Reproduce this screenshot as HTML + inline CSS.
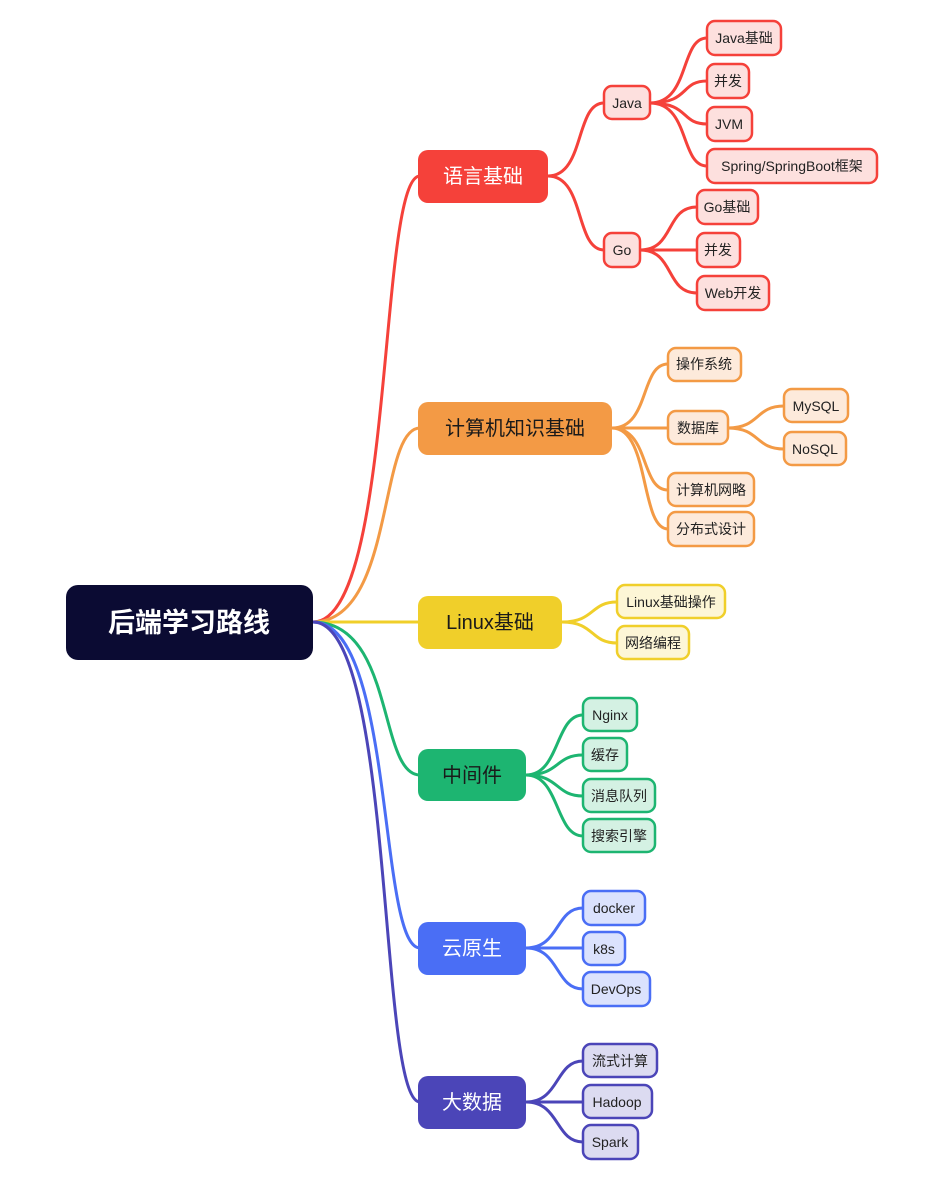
<!DOCTYPE html>
<html><head><meta charset="utf-8"><style>
html,body{margin:0;padding:0;background:#fff}
svg{display:block}
text{font-family:"Liberation Sans","Noto Sans CJK SC",sans-serif;dominant-baseline:central;text-anchor:middle}
</style></head><body>
<svg width="944" height="1189" viewBox="0 0 944 1189" xmlns="http://www.w3.org/2000/svg">
<g fill="none" stroke-width="3" stroke-linecap="round">
<!-- root to mains -->
<path d="M313 622 C395 622 378 176 420 176" stroke="#f5413a"/>
<path d="M313 622 C395 622 378 428 420 428" stroke="#f39a45"/>
<path d="M313 622 C380 622 390 622 420 622" stroke="#f0cf2a"/>
<path d="M313 622 C395 622 378 775 420 775" stroke="#1db571"/>
<path d="M313 622 C395 622 378 948 420 948" stroke="#4a6ef5"/>
<path d="M313 622 C395 622 378 1102 420 1102" stroke="#4b45b8"/>
<!-- red -->
<g stroke="#f5413a">
<path d="M548 176 C585 176 575 103 604 103"/>
<path d="M548 176 C585 176 575 250 604 250"/>
<path d="M650 103 C690 103 680 38 707 38"/>
<path d="M650 103 C690 103 680 81 707 81"/>
<path d="M650 103 C690 103 680 124 707 124"/>
<path d="M650 103 C690 103 680 166 707 166"/>
<path d="M640 250 C675 250 665 207 697 207"/>
<path d="M640 250 L697 250"/>
<path d="M640 250 C675 250 665 293 697 293"/>
</g>
<g stroke="#f39a45">
<path d="M612 428 C650 428 640 364 668 364"/>
<path d="M612 428 L668 428"/>
<path d="M612 428 C650 428 640 490 668 490"/>
<path d="M612 428 C650 428 640 529 668 529"/>
<path d="M728 428 C760 428 755 406 784 406"/>
<path d="M728 428 C760 428 755 449 784 449"/>
</g>
<g stroke="#f0cf2a">
<path d="M562 622 C595 622 590 602 617 602"/>
<path d="M562 622 C595 622 590 643 617 643"/>
</g>
<g stroke="#1db571">
<path d="M526 775 C560 775 555 715 583 715"/>
<path d="M526 775 C560 775 555 755 583 755"/>
<path d="M526 775 C560 775 555 796 583 796"/>
<path d="M526 775 C560 775 555 836 583 836"/>
</g>
<g stroke="#4a6ef5">
<path d="M526 948 C560 948 555 908 583 908"/>
<path d="M526 948 L583 948"/>
<path d="M526 948 C560 948 555 989 583 989"/>
</g>
<g stroke="#4b45b8">
<path d="M526 1102 C560 1102 555 1061 583 1061"/>
<path d="M526 1102 L583 1102"/>
<path d="M526 1102 C560 1102 555 1142 583 1142"/>
</g>
</g>
<!-- root -->
<rect x="66" y="585" width="247" height="75" rx="12" fill="#0b0b33"/>
<text x="189" y="623" font-size="27" font-weight="bold" fill="#fff">后端学习路线</text>
<!-- mains -->
<rect x="418" y="150" width="130" height="53" rx="10" fill="#f5413a"/>
<text x="483" y="177" font-size="20" fill="#fff">语言基础</text>
<rect x="418" y="402" width="194" height="53" rx="10" fill="#f39a45"/>
<text x="515" y="429" font-size="20" fill="#1a1a1a">计算机知识基础</text>
<rect x="418" y="596" width="144" height="53" rx="10" fill="#f0cf2a"/>
<text x="490" y="623" font-size="20" fill="#1a1a1a">Linux基础</text>
<rect x="418" y="749" width="108" height="52" rx="10" fill="#1db571"/>
<text x="472" y="776" font-size="20" fill="#1a1a1a">中间件</text>
<rect x="418" y="922" width="108" height="53" rx="10" fill="#4a6ef5"/>
<text x="472" y="949" font-size="20" fill="#fff">云原生</text>
<rect x="418" y="1076" width="108" height="53" rx="10" fill="#4b45b8"/>
<text x="472" y="1103" font-size="20" fill="#fff">大数据</text>
<!-- subs -->
<g stroke-width="2.5" font-size="14">
<g stroke="#f5413a" fill="#fde0de">
<rect x="604" y="86" width="46" height="33" rx="8"/>
<rect x="707" y="21" width="74" height="34" rx="8"/>
<rect x="707" y="64" width="42" height="34" rx="8"/>
<rect x="707" y="107" width="45" height="34" rx="8"/>
<rect x="707" y="149" width="170" height="34" rx="8"/>
<rect x="604" y="233" width="36" height="34" rx="8"/>
<rect x="697" y="190" width="61" height="34" rx="8"/>
<rect x="697" y="233" width="43" height="34" rx="8"/>
<rect x="697" y="276" width="72" height="34" rx="8"/>
</g>
<g stroke="#f39a45" fill="#fdeadb">
<rect x="668" y="348" width="73" height="33" rx="8"/>
<rect x="668" y="411" width="60" height="33" rx="8"/>
<rect x="784" y="389" width="64" height="33" rx="8"/>
<rect x="784" y="432" width="62" height="33" rx="8"/>
<rect x="668" y="473" width="86" height="33" rx="8"/>
<rect x="668" y="512" width="86" height="34" rx="8"/>
</g>
<g stroke="#f0cf2a" fill="#fdf6d6">
<rect x="617" y="585" width="108" height="33" rx="8"/>
<rect x="617" y="626" width="72" height="33" rx="8"/>
</g>
<g stroke="#1db571" fill="#d4f1e3">
<rect x="583" y="698" width="54" height="33" rx="8"/>
<rect x="583" y="738" width="44" height="33" rx="8"/>
<rect x="583" y="779" width="72" height="33" rx="8"/>
<rect x="583" y="819" width="72" height="33" rx="8"/>
</g>
<g stroke="#4a6ef5" fill="#dbe2fd">
<rect x="583" y="891" width="62" height="34" rx="8"/>
<rect x="583" y="932" width="42" height="33" rx="8"/>
<rect x="583" y="972" width="67" height="34" rx="8"/>
</g>
<g stroke="#4b45b8" fill="#dcdbf1">
<rect x="583" y="1044" width="74" height="33" rx="8"/>
<rect x="583" y="1085" width="69" height="33" rx="8"/>
<rect x="583" y="1125" width="55" height="34" rx="8"/>
</g>
</g>
<g font-size="14" fill="#222">
<text x="627" y="103">Java</text>
<text x="744" y="38">Java基础</text>
<text x="728" y="81">并发</text>
<text x="729" y="124">JVM</text>
<text x="792" y="166">Spring/SpringBoot框架</text>
<text x="622" y="250">Go</text>
<text x="727" y="207">Go基础</text>
<text x="718" y="250">并发</text>
<text x="733" y="293">Web开发</text>
<text x="704" y="364">操作系统</text>
<text x="698" y="428">数据库</text>
<text x="816" y="406">MySQL</text>
<text x="815" y="449">NoSQL</text>
<text x="711" y="490">计算机网略</text>
<text x="711" y="529">分布式设计</text>
<text x="671" y="602">Linux基础操作</text>
<text x="653" y="643">网络编程</text>
<text x="610" y="715">Nginx</text>
<text x="605" y="755">缓存</text>
<text x="619" y="796">消息队列</text>
<text x="619" y="836">搜索引擎</text>
<text x="614" y="908">docker</text>
<text x="604" y="949">k8s</text>
<text x="616" y="989">DevOps</text>
<text x="620" y="1061">流式计算</text>
<text x="617" y="1102">Hadoop</text>
<text x="610" y="1142">Spark</text>
</g>
</svg>
</body></html>
